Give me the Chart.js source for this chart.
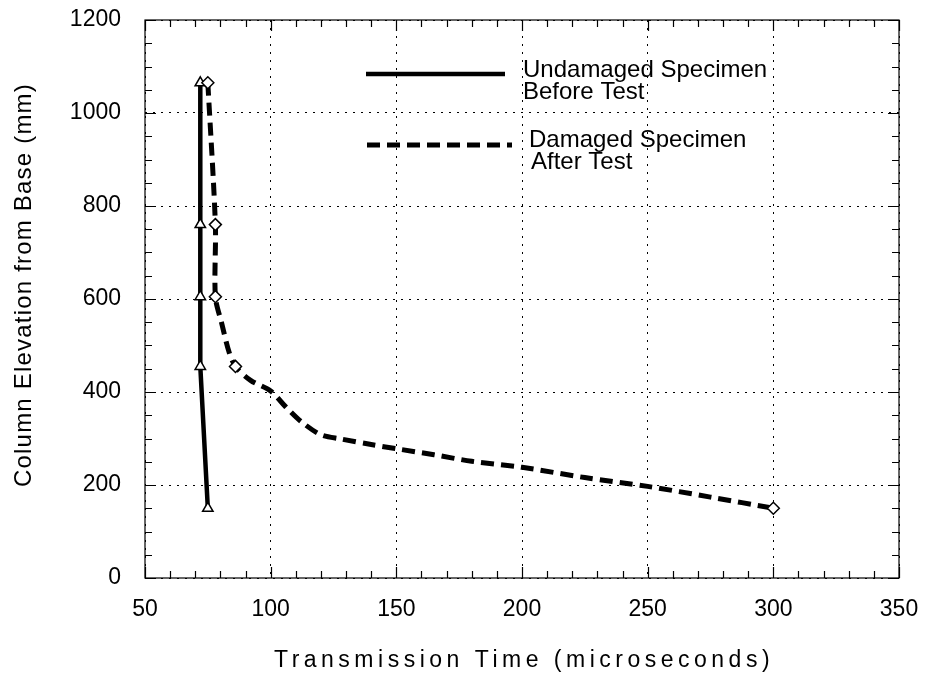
<!DOCTYPE html>
<html><head><meta charset="utf-8">
<script src="https://cdn.jsdelivr.net/npm/chart.js@4"></script>
<style>html,body{margin:0;padding:0;background:#fff}#wrap{position:relative;width:926px;height:676px}</style>
</head><body><div id="wrap"><canvas id="c" width="926" height="676"></canvas></div>
<script>
// ---- data ----
const undamagedTime = [72, 72, 72, 72, 75];
const undamagedElev = [1065, 760, 605, 455, 150];
const damagedTime = [75, 78, 78, 80.5, 83.5, 86, 92, 100, 106, 112, 120, 128, 140, 150, 165, 180, 200, 225, 250, 275, 300];
const damagedElev = [1065, 760, 605, 548, 485, 455, 425, 402, 368, 337, 308, 299, 287, 278, 265, 251, 238, 216, 197, 174, 150];
const damagedMarked = [1, 1, 1, 0, 0, 1, 0, 0, 0, 0, 0, 0, 0, 0, 0, 0, 0, 0, 0, 0, 1];
const xTicksMajor = [50, 100, 150, 200, 250, 300, 350];
const yTicksMajor = [0, 200, 400, 600, 800, 1000, 1200];
const legendLabels = [["Undamaged Specimen", "Before Test"], ["Damaged Specimen", "After Test"]];
const xTitle = "Transmission Time (microseconds)";
const yTitle = "Column Elevation from Base (mm)";

const FONT = "'Liberation Sans', Arial, sans-serif";

const undamagedPts = undamagedTime.map((t, i) => ({x: t, y: undamagedElev[i]}));
const damagedPts = damagedTime.map((t, i) => ({x: t, y: damagedElev[i]}));

const decoPlugin = {
  id: 'deco',
  beforeDatasetsDraw(chart) {
    const {ctx, chartArea: a, scales: {x, y}} = chart;
    ctx.save();
    ctx.strokeStyle = '#000';
    ctx.lineWidth = 1.2;
    ctx.setLineDash([]);
    ctx.strokeRect(a.left, a.top, a.right - a.left, a.bottom - a.top);
    ctx.beginPath();
    for (let v = x.min; v <= x.max; v += 10) {
      const p = Math.round(x.getPixelForValue(v)) + 0.5;
      const L = (v % 50 === 0) ? 11 : 7;
      ctx.moveTo(p, a.bottom); ctx.lineTo(p, a.bottom - L);
      ctx.moveTo(p, a.top); ctx.lineTo(p, a.top + L);
    }
    for (let v = y.min; v <= y.max; v += 50) {
      const p = Math.round(y.getPixelForValue(v)) + 0.5;
      const L = (v % 200 === 0) ? 11 : 7;
      ctx.moveTo(a.left, p); ctx.lineTo(a.left + L, p);
      ctx.moveTo(a.right, p); ctx.lineTo(a.right - L, p);
    }
    ctx.stroke();
    ctx.restore();
  },
  afterDraw(chart) {
    const {ctx, chartArea: a} = chart;
    ctx.save();
    ctx.strokeStyle = '#000';
    ctx.fillStyle = '#000';
    // legend samples
    ctx.lineWidth = 4.5;
    ctx.setLineDash([]);
    ctx.beginPath(); ctx.moveTo(366, 74); ctx.lineTo(505, 74); ctx.stroke();
    ctx.lineWidth = 5;
    ctx.setLineDash([13, 7]);
    ctx.beginPath(); ctx.moveTo(367, 145); ctx.lineTo(512, 145); ctx.stroke();
    ctx.setLineDash([]);
    ctx.font = "24px " + FONT;
    ctx.textBaseline = 'alphabetic';
    ctx.textAlign = 'left';
    ctx.fillText(legendLabels[0][0], 523, 77);
    ctx.fillText(legendLabels[0][1], 523, 99);
    ctx.fillText(legendLabels[1][0], 529, 147);
    ctx.fillText(legendLabels[1][1], 531, 169);
    // axis titles
    ctx.textAlign = 'center';
    ctx.font = "23px " + FONT;
    ctx.letterSpacing = '4.5px';
    ctx.fillText(xTitle, (a.left + a.right) / 2 + 2, 667);
    ctx.letterSpacing = '1.2px';
    ctx.font = "24px " + FONT;
    ctx.translate(31, 285);
    ctx.rotate(-Math.PI / 2);
    ctx.fillText(yTitle, 0, 0);
    ctx.letterSpacing = '0px';
    ctx.restore();
  }
};

new Chart(document.getElementById('c'), {
  type: 'scatter',
  data: {
    datasets: [
      {
        label: legendLabels[0].join(' '),
        data: undamagedPts,
        showLine: true,
        borderColor: '#000',
        borderWidth: 4.5,
        tension: 0,
        pointStyle: 'triangle',
        pointRadius: 6,
        pointBorderWidth: 1.5,
        pointBorderColor: '#000',
        pointBackgroundColor: '#fff',
        order: 2
      },
      {
        label: legendLabels[1].join(' '),
        data: damagedPts,
        showLine: true,
        borderColor: '#000',
        borderWidth: 5,
        borderDash: [13, 7],
        tension: 0.3,
        pointStyle: 'rectRot',
        pointRadius: damagedMarked.map(m => m ? 6 : 0),
        pointBorderWidth: 1.5,
        pointBorderColor: '#000',
        pointBackgroundColor: '#fff',
        order: 1
      }
    ]
  },
  options: {
    responsive: false,
    devicePixelRatio: 1,
    animation: false,
    layout: {padding: {left: 0, right: 27, top: 20, bottom: 0}},
    plugins: {legend: {display: false}, tooltip: {enabled: false}},
    scales: {
      x: {
        type: 'linear', min: 50, max: 350,
        afterFit(s) { s.height = 98; s.paddingLeft = 0; s.paddingRight = 0; },
        afterBuildTicks(s) { s.ticks = xTicksMajor.map(v => ({value: v})); },
        ticks: {color: '#000', padding: 18, font: {family: FONT, size: 23}, callback: v => String(v)},
        grid: {color: '#000', lineWidth: 1, drawTicks: false},
        border: {display: false, dash: [2, 6]},
        title: {display: false}
      },
      y: {
        type: 'linear', min: 0, max: 1200,
        afterFit(s) { s.width = 145; s.paddingTop = 0; s.paddingBottom = 0; },
        afterBuildTicks(s) { s.ticks = yTicksMajor.map(v => ({value: v})); },
        ticks: {color: '#000', padding: 24, font: {family: FONT, size: 23}, callback: v => String(v)},
        grid: {color: '#000', lineWidth: 1, drawTicks: false},
        border: {display: false, dash: [2, 6]},
        title: {display: false}
      }
    }
  },
  plugins: [decoPlugin]
});
</script>
</body></html>
